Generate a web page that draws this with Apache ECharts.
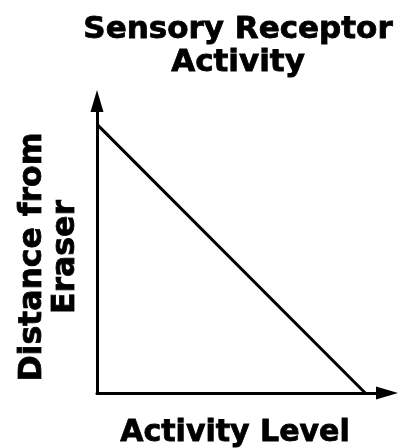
<!DOCTYPE html>
<html>
<head>
<meta charset="utf-8">
<style>
  html, body { margin: 0; padding: 0; background: #ffffff; }
  #chart { width: 400px; height: 448px; }
</style>
<script src="https://cdn.jsdelivr.net/npm/echarts@6/dist/echarts.min.js"></script>
</head>
<body>
<div id="chart"></div>
<script>
// Activity level rises as the distance from the eraser shrinks
const activityLevel = [0, 9.25];
const distanceFromEraser = [9.2, 0];
const axisRange = [0, 10];

const titleText = 'Sensory Receptor\nActivity';
const xName = 'Activity Level';
const yName = 'Distance from\nEraser';

const FONT = '"DejaVu Sans", Verdana, sans-serif';
const INK = '#000000';

// Shared heavy lettering for the title and both axis names
const heavyText = {
  fontFamily: FONT,
  fontWeight: 'bold',
  fontSize: 30,
  color: INK,
  textBorderColor: INK,
  textBorderWidth: 0.8
};

const points = activityLevel.map((x, i) => [x, distanceFromEraser[i]]);

const chart = echarts.init(document.getElementById('chart'), null, { renderer: 'canvas' });

const axisLine = {
  show: true,
  symbol: ['none', 'triangle'],
  symbolSize: [13, 22],
  lineStyle: { color: INK, width: 3 }
};

chart.setOption({
  animation: false,
  backgroundColor: '#ffffff',
  title: {
    text: titleText,
    left: 233,
    top: 8,
    textAlign: 'center',
    textStyle: Object.assign({}, heavyText, { fontSize: 31, lineHeight: 33 })
  },
  grid: {
    left: 97, right: 13, top: 101, bottom: 55,
    containLabel: false,
    outerBoundsMode: 'none'
  },
  xAxis: {
    type: 'value',
    min: axisRange[0],
    max: axisRange[1],
    name: xName,
    nameLocation: 'middle',
    nameGap: 25,
    nameTextStyle: Object.assign({}, heavyText, { padding: [0, 14, 0, 0] }),
    axisLine: axisLine,
    axisTick: { show: false },
    axisLabel: { show: false },
    splitLine: { show: false }
  },
  yAxis: {
    type: 'value',
    min: axisRange[0],
    max: axisRange[1],
    name: yName,
    nameLocation: 'middle',
    nameRotate: 90,
    nameGap: 15,
    nameTextStyle: Object.assign({}, heavyText, { fontSize: 31.5, lineHeight: 33, padding: [0, 20, 0, 0] }),
    axisLine: axisLine,
    axisTick: { show: false },
    axisLabel: { show: false },
    splitLine: { show: false }
  },
  series: [{
    type: 'line',
    data: points,
    showSymbol: false,
    symbol: 'none',
    lineStyle: { color: INK, width: 3 },
    z: 1
  }]
});
</script>
</body>
</html>
